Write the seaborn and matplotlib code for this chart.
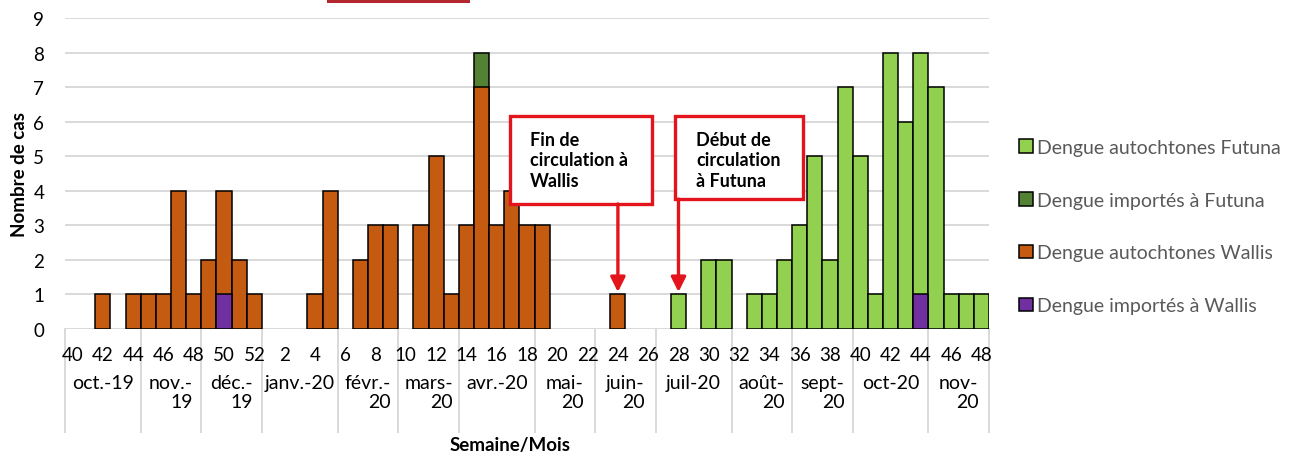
import numpy as np
import pandas as pd
import seaborn as sns
import matplotlib.pyplot as plt
import matplotlib.transforms as mtransforms
from matplotlib.patches import Rectangle, Patch

# semaines S40-2019 -> S48-2020
semaines = list(range(40, 53)) + list(range(1, 49))

importes_wallis = [0] * 10 + [1] + [0] * 2 + [0] * 43 + [1] + [0] * 4
autochtones_wallis = [0, 0, 1, 0, 1, 1, 1, 4, 1, 2, 3, 2, 1] + \
    [0, 0, 0, 1, 4, 0, 2, 3, 3, 0, 3, 5, 1, 3, 7, 3, 4, 3, 3, 0,
     0, 0, 0, 1] + [0] * 24
importes_futuna = [0] * 13 + [0] * 14 + [1] + [0] * 33
autochtones_futuna = [0] * 13 + [0] * 27 + \
    [1, 0, 2, 2, 0, 1, 1, 2, 3, 5, 2, 7, 5, 1, 8, 6, 7, 7, 1, 1, 1]

mois = ["oct.-19", "nov.-\n19", "déc.-\n19", "janv.-20", "févr.-\n20",
        "mars-\n20", "avr.-20", "mai-\n20", "juin-\n20", "juil-20",
        "août-\n20", "sept-\n20", "oct-20", "nov-\n20"]
nb_semaines_mois = [5, 4, 4, 5, 4, 4, 5, 4, 4, 5, 4, 4, 5, 4]

series = ["Dengue autochtones Futuna", "Dengue importés à Futuna",
          "Dengue autochtones Wallis", "Dengue importés à Wallis"]
couleurs = ["#92D050", "#548235", "#C55A11", "#7030A0"]

plt.rcParams["font.family"] = ["Lato", "DejaVu Sans"]

# empilement : hauteur cumulée de chaque couche
iw = np.array(importes_wallis, float)
aw = np.array(autochtones_wallis, float)
imf = np.array(importes_futuna, float)
af = np.array(autochtones_futuna, float)
couches = {
    series[3]: (iw, iw),
    series[2]: (aw, iw + aw),
    series[1]: (imf, iw + aw + imf),
    series[0]: (af, iw + aw + imf + af),
}
cles = [f"{i:02d}-{s}" for i, s in enumerate(semaines)]
lignes = []
for nom in series:
    propre, haut = couches[nom]
    for k, p, h in zip(cles, propre, haut):
        lignes.append({"semaine": k, "serie": nom, "haut": h if p > 0 else np.nan})
df = pd.DataFrame(lignes)

fig = plt.figure(figsize=(12.92, 4.56), dpi=100)
ax = fig.add_axes([0.0503, 0.2763, 0.7152, 0.682])

sns.barplot(data=df, x="semaine", y="haut", hue="serie", order=cles,
            hue_order=series, palette=couleurs, saturation=1, dodge=False,
            width=1.0, edgecolor="black", linewidth=1.1, errorbar=None,
            legend=False, ax=ax)

ax.set_xlim(-0.5, len(cles) - 0.5)
ax.set_ylim(0, 9)
ax.set_yticks(range(10))
ax.yaxis.grid(True, color="#D9D9D9", linewidth=1.4)
ax.set_axisbelow(True)
for s in ax.spines.values():
    s.set_visible(False)
ax.tick_params(axis="both", length=0, labelsize=13.5, colors="black")
ax.tick_params(axis="x", pad=12)
ax.tick_params(axis="y", pad=15)
ax.set_xticks(range(0, len(cles), 2))
ax.set_xticklabels([str(s) for s in semaines[::2]])
ax.set_xlabel("")
ax.set_ylabel("Nombre de cas", fontsize=13.5, fontweight="bold", labelpad=4)

# axe des mois
trans = mtransforms.blended_transform_factory(ax.transData, ax.transAxes)
bornes = np.concatenate([[0], np.cumsum(nb_semaines_mois)]) - 0.5
for b in bornes:
    ax.plot([b, b], [0, -0.331], transform=trans, color="#D9D9D9",
            lw=1.4, clip_on=False, zorder=0)
for m, a, b in zip(mois, bornes[:-1], bornes[1:]):
    ax.text((a + b) / 2, -0.145, m, transform=trans, ha="center", va="top",
            multialignment="right", fontsize=14, linespacing=1.15)
fig.text(0.395, 0.004, "Semaine/Mois", ha="center", va="bottom",
         fontsize=13.5, fontweight="bold")

# annotations
rouge = "#E3141B"
ax.add_patch(Rectangle((28.87, 3.62), 9.38, 2.54, facecolor="white",
                       edgecolor=rouge, lw=2.4, zorder=5))
ax.text(30.2, 5.72, "Fin de\ncirculation à\nWallis", fontsize=13,
        fontweight="bold", va="top", ha="left", linespacing=1.22, zorder=6)
ax.annotate("", xy=(36, 1.07), xytext=(36, 3.62),
            arrowprops=dict(arrowstyle="-|>", color=rouge, lw=2.4,
                            mutation_scale=22, shrinkA=0, shrinkB=0), zorder=6)
ax.add_patch(Rectangle((39.76, 3.76), 8.44, 2.40, facecolor="white",
                       edgecolor=rouge, lw=2.4, zorder=5))
ax.text(41.15, 5.72, "Début de\ncirculation\nà Futuna", fontsize=13,
        fontweight="bold", va="top", ha="left", linespacing=1.22, zorder=6)
ax.annotate("", xy=(40, 1.07), xytext=(40, 3.76),
            arrowprops=dict(arrowstyle="-|>", color=rouge, lw=2.4,
                            mutation_scale=22, shrinkA=0, shrinkB=0), zorder=6)

# légende
poignees = [Patch(facecolor=c, edgecolor="black", lw=1.1) for c in couleurs]
leg = fig.legend(poignees, series, loc="upper left",
                 bbox_to_anchor=(0.7887, 0.694), frameon=False, fontsize=14,
                 handlelength=0.7, handleheight=0.7, handletextpad=0.25,
                 labelspacing=1.85, borderpad=0, borderaxespad=0)
for t in leg.get_texts():
    t.set_color("#595959")

# bord de cadre coupé en haut
fig.patches.append(Rectangle((327 / 1292, 1 - 4 / 456), 143 / 1292, 4 / 456,
                             transform=fig.transFigure, facecolor="#B2282E",
                             edgecolor="none"))

fig.savefig("out.png", dpi=100)
